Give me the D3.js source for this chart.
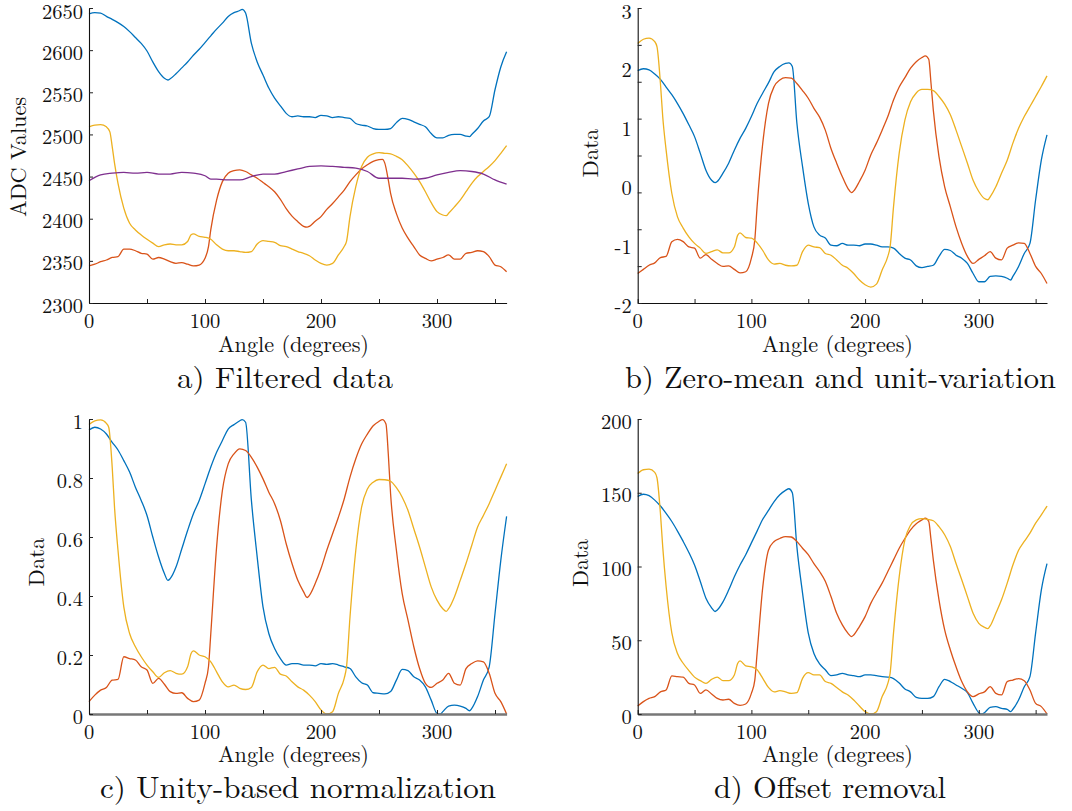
<!DOCTYPE html>
<html>
<head>
<meta charset="utf-8">
<script src="https://cdn.jsdelivr.net/npm/d3@7"></script>
<style>
  body { margin: 0; background: #fff; }
  svg text { fill: #111; }
</style>
</head>
<body>
<svg id="chart" width="1072" height="811"></svg>
<script>
// ---- data: [angle in degrees, value] ----
const filteredBlue = [[0,2643],[5,2644.5],[10,2644],[15,2640],[20,2636.5],[25,2632.6],[30,2628],[35,2622],[40,2615],[45,2608],[50,2599],[55,2586],[60,2574.5],[65,2566.6],[68,2564.6],[70,2566],[75,2572],[80,2579],[85,2586],[90,2594],[95,2601],[100,2609],[105,2617],[110,2625],[115,2632],[120,2640],[125,2644.5],[130,2647],[132,2648.4],[135,2644],[140,2608],[145,2586],[150,2570.5],[155,2555],[160,2543],[165,2534],[170,2525],[175,2521],[180,2522],[185,2521],[190,2521],[195,2520],[200,2522.7],[205,2522],[210,2520],[215,2521],[220,2520],[225,2519],[230,2513],[235,2511],[240,2510],[245,2507],[250,2506],[255,2506],[260,2507],[265,2514],[270,2519],[275,2518],[280,2515],[285,2512],[290,2509],[295,2501],[300,2496],[305,2496],[310,2499],[315,2500],[320,2500],[325,2498],[328,2497.4],[330,2500],[335,2507],[340,2516],[345,2521],[350,2553],[355,2580],[360,2598]];
const filteredRed = [[0,2344],[5,2346],[10,2349],[15,2351],[20,2354],[25,2355],[30,2364],[35,2364],[40,2362],[45,2359],[50,2358],[55,2352],[60,2354],[65,2352],[70,2349],[75,2347],[80,2348],[85,2346],[90,2344],[95,2345],[100,2353],[103,2367],[105,2387],[110,2422],[115,2444],[120,2454],[125,2457],[130,2458],[135,2456],[140,2452],[145,2448],[150,2443],[155,2438],[160,2432],[165,2423],[170,2412],[175,2403],[180,2396.5],[185,2391],[188,2390],[190,2391],[195,2397],[200,2402.5],[205,2411],[210,2418],[215,2426],[220,2434],[225,2444],[230,2452],[235,2459],[240,2464],[245,2468],[250,2470],[253,2470.5],[255,2466],[258,2446],[260,2430],[265,2406],[270,2389],[275,2377],[280,2367],[285,2357],[290,2353],[295,2350],[300,2352],[305,2354],[310,2357],[315,2352],[320,2352],[325,2359],[330,2360],[335,2362],[340,2361],[345,2355],[350,2345],[355,2343],[360,2337]];
const filteredYellow = [[0,2509],[5,2511],[10,2511.6],[15,2509],[18,2503],[20,2485.5],[22,2466],[25,2442],[30,2412.6],[35,2394.6],[40,2386.7],[45,2380.7],[50,2375.6],[55,2371],[60,2367],[65,2369],[70,2370],[75,2369],[80,2369],[85,2373],[88,2381],[90,2382],[95,2379],[100,2378],[105,2375.6],[110,2369],[115,2364],[120,2362],[125,2362],[130,2361],[135,2360],[140,2361],[145,2370],[150,2374],[155,2373],[160,2372],[165,2368],[170,2367],[175,2364],[180,2361],[185,2359],[190,2356],[195,2351],[200,2347],[205,2345],[210,2347],[215,2357],[220,2367],[222,2373],[225,2402.5],[230,2438],[235,2462],[240,2473],[245,2477],[250,2478.4],[255,2477.6],[260,2477],[265,2474],[270,2470],[275,2462.6],[280,2454],[285,2444],[290,2432],[295,2419],[300,2408.4],[305,2404.4],[308,2403.6],[310,2406.4],[315,2414],[320,2422],[325,2432],[330,2442],[335,2450],[340,2456],[345,2462],[350,2469],[355,2477.6],[360,2486.7]];
const filteredPurple = [[0,2445],[10,2452],[20,2454],[30,2455],[40,2454],[50,2455],[60,2453],[70,2453],[80,2455],[90,2454],[100,2451],[105,2447],[110,2447],[120,2446],[130,2446],[140,2450],[150,2453],[160,2453],[170,2456],[180,2459],[190,2462],[200,2462.6],[210,2462],[220,2461],[230,2460],[240,2456],[250,2448],[260,2448],[270,2448],[280,2447],[290,2448],[300,2452],[310,2455],[320,2457],[330,2456],[340,2453],[350,2446],[360,2441]];

const zscoreBlue = [[0,1.94],[5,1.97],[10,1.95],[15,1.88],[20,1.79],[25,1.66],[30,1.53],[35,1.38],[40,1.21],[45,1.02],[50,0.82],[55,0.54],[60,0.25],[65,0.08],[68,0.04],[70,0.06],[75,0.2],[80,0.37],[85,0.59],[90,0.79],[95,0.96],[100,1.16],[105,1.38],[110,1.56],[115,1.73],[120,1.92],[125,2.01],[130,2.06],[133,2.07],[136,2.01],[140,1.05],[145,0.31],[150,-0.31],[155,-0.71],[160,-0.85],[165,-0.9],[170,-1.02],[175,-1.03],[180,-0.99],[185,-1.02],[190,-1.02],[195,-1.03],[200,-1.0],[205,-1.0],[210,-1.02],[215,-1.05],[220,-1.05],[225,-1.07],[230,-1.16],[235,-1.24],[240,-1.27],[245,-1.37],[250,-1.4],[255,-1.38],[260,-1.36],[265,-1.21],[270,-1.09],[275,-1.11],[280,-1.19],[285,-1.24],[290,-1.33],[295,-1.5],[300,-1.64],[305,-1.64],[310,-1.55],[315,-1.54],[320,-1.55],[325,-1.58],[328,-1.61],[330,-1.55],[335,-1.38],[340,-1.16],[345,-0.99],[350,-0.25],[355,0.42],[360,0.85]];
const zscoreRed = [[0,-1.5],[5,-1.43],[10,-1.36],[15,-1.32],[20,-1.23],[25,-1.21],[30,-0.96],[35,-0.92],[40,-0.96],[45,-1.05],[50,-1.07],[55,-1.24],[60,-1.18],[65,-1.26],[70,-1.33],[75,-1.38],[80,-1.37],[85,-1.43],[90,-1.49],[95,-1.47],[100,-1.24],[103,-0.93],[105,-0.37],[110,0.71],[115,1.38],[120,1.67],[125,1.78],[130,1.82],[135,1.81],[140,1.72],[145,1.6],[150,1.47],[155,1.3],[160,1.15],[165,0.93],[170,0.62],[175,0.37],[180,0.14],[185,-0.06],[188,-0.13],[190,-0.1],[195,0.06],[200,0.25],[205,0.51],[210,0.71],[215,0.93],[220,1.16],[225,1.44],[230,1.66],[235,1.82],[240,1.98],[245,2.09],[250,2.16],[253,2.19],[256,2.13],[258,1.72],[260,1.27],[265,0.48],[270,-0.03],[275,-0.37],[280,-0.71],[285,-0.99],[290,-1.21],[295,-1.33],[300,-1.26],[305,-1.2],[310,-1.13],[315,-1.24],[320,-1.27],[325,-1.07],[330,-1.02],[335,-0.98],[340,-0.99],[345,-1.16],[350,-1.38],[355,-1.5],[360,-1.67]];
const zscoreYellow = [[0,2.4],[5,2.47],[10,2.49],[15,2.43],[17,2.34],[20,1.72],[22,1.16],[25,0.59],[30,-0.14],[35,-0.54],[40,-0.73],[45,-0.88],[50,-0.99],[55,-1.07],[60,-1.16],[65,-1.13],[70,-1.1],[75,-1.15],[80,-1.15],[85,-1.05],[88,-0.85],[90,-0.81],[95,-0.89],[100,-0.9],[105,-0.98],[110,-1.11],[115,-1.27],[120,-1.34],[125,-1.33],[130,-1.36],[135,-1.37],[140,-1.36],[145,-1.13],[150,-1.02],[155,-1.05],[160,-1.06],[165,-1.16],[170,-1.19],[175,-1.27],[180,-1.36],[185,-1.41],[190,-1.5],[195,-1.61],[200,-1.69],[205,-1.73],[210,-1.68],[215,-1.44],[220,-1.21],[222,-1.05],[225,-0.37],[230,0.54],[235,1.1],[240,1.41],[245,1.56],[250,1.62],[255,1.62],[260,1.6],[265,1.5],[270,1.37],[275,1.19],[280,0.93],[285,0.65],[290,0.37],[295,0.08],[300,-0.11],[305,-0.23],[308,-0.25],[310,-0.2],[315,-0.03],[320,0.2],[325,0.42],[330,0.71],[335,0.96],[340,1.16],[345,1.33],[350,1.5],[355,1.67],[360,1.85]];

const unityBlue = [[0,0.963],[5,0.972],[10,0.966],[15,0.949],[20,0.921],[25,0.895],[30,0.859],[35,0.82],[40,0.769],[45,0.724],[50,0.673],[55,0.6],[60,0.532],[65,0.476],[68,0.453],[70,0.459],[75,0.498],[80,0.56],[85,0.622],[90,0.679],[95,0.724],[100,0.78],[105,0.837],[110,0.887],[115,0.927],[120,0.966],[125,0.981],[130,0.994],[132,0.998],[135,0.989],[140,0.724],[145,0.532],[150,0.363],[155,0.273],[160,0.222],[165,0.188],[170,0.166],[175,0.171],[180,0.171],[185,0.166],[190,0.166],[195,0.163],[200,0.171],[205,0.168],[210,0.171],[215,0.166],[220,0.16],[225,0.154],[230,0.126],[235,0.106],[240,0.098],[245,0.072],[250,0.07],[255,0.068],[260,0.076],[265,0.115],[270,0.151],[275,0.147],[280,0.126],[285,0.115],[290,0.092],[295,0.047],[300,0.002],[303,0],[305,0.008],[310,0.027],[315,0.03],[320,0.027],[325,0.019],[328,0.011],[330,0.019],[335,0.059],[340,0.115],[345,0.16],[350,0.34],[355,0.521],[360,0.67]];
const unityRed = [[0,0.042],[5,0.064],[10,0.081],[15,0.09],[20,0.115],[25,0.117],[30,0.194],[35,0.188],[40,0.183],[45,0.16],[50,0.149],[55,0.104],[60,0.121],[65,0.101],[70,0.076],[75,0.07],[80,0.072],[85,0.053],[90,0.042],[95,0.047],[100,0.104],[103,0.16],[105,0.273],[110,0.566],[115,0.758],[120,0.848],[125,0.882],[130,0.899],[135,0.893],[140,0.87],[145,0.837],[150,0.797],[155,0.752],[160,0.713],[165,0.656],[170,0.577],[175,0.51],[180,0.453],[185,0.414],[188,0.395],[190,0.402],[195,0.442],[200,0.493],[205,0.555],[210,0.611],[215,0.667],[220,0.729],[225,0.803],[230,0.865],[235,0.915],[240,0.949],[245,0.977],[250,0.992],[253,0.998],[256,0.983],[258,0.882],[260,0.746],[265,0.555],[270,0.408],[275,0.318],[280,0.228],[285,0.154],[290,0.104],[295,0.09],[300,0.104],[305,0.115],[310,0.138],[315,0.104],[320,0.098],[325,0.154],[330,0.171],[335,0.18],[340,0.177],[345,0.138],[350,0.07],[355,0.042],[360,0]];
const unityYellow = [[0,0.981],[5,0.994],[10,0.997],[15,0.985],[17,0.972],[20,0.837],[22,0.701],[25,0.555],[30,0.363],[35,0.273],[40,0.228],[45,0.194],[50,0.166],[55,0.143],[60,0.124],[65,0.14],[70,0.147],[75,0.138],[80,0.135],[85,0.16],[88,0.205],[90,0.214],[95,0.2],[100,0.194],[105,0.177],[110,0.143],[115,0.109],[120,0.092],[125,0.098],[130,0.087],[135,0.083],[140,0.09],[145,0.143],[150,0.166],[155,0.154],[160,0.158],[165,0.135],[170,0.129],[175,0.109],[180,0.092],[185,0.081],[190,0.064],[195,0.042],[200,0.014],[205,0],[210,0.008],[215,0.07],[220,0.121],[222,0.16],[225,0.329],[230,0.555],[235,0.701],[240,0.763],[245,0.786],[250,0.795],[255,0.794],[260,0.789],[265,0.767],[270,0.735],[275,0.69],[280,0.628],[285,0.566],[290,0.498],[295,0.431],[300,0.386],[305,0.357],[308,0.348],[310,0.357],[315,0.397],[320,0.453],[325,0.51],[330,0.572],[335,0.634],[340,0.673],[345,0.713],[350,0.758],[355,0.803],[360,0.848]];

const offsetBlue = [[0,147.5],[5,149],[10,148],[15,145],[20,141],[25,136],[30,130.5],[35,124],[40,117],[45,109.5],[50,101],[55,90],[60,78.5],[65,72],[68,69.5],[70,70.5],[75,76],[80,84],[85,93],[90,101],[95,108],[100,116],[105,124],[110,132],[115,138],[120,144],[125,148.6],[130,151.6],[133,152.7],[136,150],[140,113.5],[145,82],[150,55],[155,41],[160,34],[165,30],[170,26],[175,26.5],[180,27.6],[185,26.5],[190,26],[195,25.3],[200,26.5],[205,26.5],[210,26],[215,25.3],[220,25],[225,24],[230,21],[235,17],[240,15],[245,11.3],[250,10.6],[255,10.6],[260,11.8],[265,18.5],[270,23.5],[275,22],[280,19.7],[285,17.4],[290,14.5],[295,7.2],[300,0.9],[303,0],[305,0.9],[310,4.5],[315,5],[320,3.8],[325,3.2],[328,1.6],[330,3.2],[335,9.5],[340,18.5],[345,25.3],[350,55],[355,84],[360,102]];
const offsetRed = [[0,5.4],[5,8.4],[10,10.6],[15,11.8],[20,15],[25,16.3],[30,25.8],[35,25.3],[40,25],[45,20.8],[50,19.7],[55,14],[60,16.3],[65,13.6],[70,10.6],[75,9.5],[80,10],[85,7.2],[90,5.9],[95,6.8],[100,14],[103,23],[105,41],[110,86],[115,111],[120,117],[125,119],[130,120.3],[135,120],[140,117],[145,112.4],[150,108],[155,102],[160,96.6],[165,90],[170,79.6],[175,68.3],[180,60.4],[185,54.7],[188,52.5],[190,53.6],[195,59.3],[200,66],[205,75],[210,82],[215,88.7],[220,96.6],[225,104.5],[230,112.4],[235,119],[240,124.9],[245,129],[250,131.6],[253,132.8],[256,130.5],[258,118],[260,104.5],[265,77.4],[270,57],[275,43.4],[280,32],[285,22],[290,15],[295,11.8],[300,13.6],[305,15],[310,18.5],[315,14],[320,12.9],[325,22],[330,23],[335,24],[340,22.6],[345,16.3],[350,7.2],[355,5],[360,0]];
const offsetYellow = [[0,163],[5,165.6],[10,166],[15,163.8],[17,160],[20,136],[22,113.5],[25,86.4],[30,55],[35,41],[40,34.4],[45,29.4],[50,25],[55,22.6],[60,20.8],[65,23.5],[70,25],[75,22.6],[80,22.6],[85,26.5],[88,34.4],[90,36],[95,32.6],[100,32],[105,30],[110,24.2],[115,18],[120,15],[125,15.8],[130,15],[135,14],[140,14.5],[145,24.2],[150,28],[155,26.5],[160,26.5],[165,22],[170,20.8],[175,18],[180,15],[185,12.9],[190,9.5],[195,5.4],[200,1.6],[205,0],[210,1.6],[215,11.8],[220,20.8],[222,27.6],[225,55],[230,93],[235,118],[240,128],[245,131.6],[250,132.5],[255,132],[260,131],[265,127],[270,121.5],[275,113.5],[280,102],[285,91],[290,79.6],[295,68.3],[300,61.5],[305,58.8],[308,57.9],[310,59.7],[315,68.3],[320,77.4],[325,88.7],[330,101],[335,111],[340,117],[345,122.6],[350,129.4],[355,135],[360,141]];

// ---- axis ticks and labels ----
const angleTicks = [0, 50, 100, 150, 200, 250, 300, 350];
const angleLabels = [0, 100, 200, 300];
const filteredTicks = [2300, 2350, 2400, 2450, 2500, 2550, 2600, 2650];
const zscoreTicks = [-2, -1.375, -0.75, -0.125, 0.5, 1.125, 1.75, 2.375, 3];
const zscoreLabels = [-2, -1, 0, 1, 2, 3];
const unityTicks = [0, 0.2, 0.4, 0.6, 0.8, 1];
const unityLabels = ["0", "0.2", "0.4", "0.6", "0.8", "1"];
const offsetTicks = [0, 50, 100, 150, 200];

const colors = { blue: "#0072BD", red: "#D95319", yellow: "#EDB120", purple: "#7E2F8E" };
const serif = "'Latin Modern Roman', 'CMU Serif', 'Liberation Serif', 'DejaVu Serif', 'Noto Serif', 'Tinos', 'Nimbus Roman', 'FreeSerif', 'Times New Roman', Times, serif";

const panels = [
  { left: 89, right: 506.6, top: 8, bottom: 303, yDomain: [2300, 2650],
    ticks: filteredTicks, labels: filteredTicks.map(String),
    baseColor: "#111", baseWidth: 1,
    yTitle: "ADC Values", yTitleX: 26, yTitleY: 157, yTitleLen: 120,
    xTitleX: 293.5, xTitleY: 352, title: "a) Filtered data", titleX: 285, titleY: 388, titleLen: 216,
    series: [[filteredBlue, colors.blue], [filteredRed, colors.red], [filteredYellow, colors.yellow], [filteredPurple, colors.purple]] },
  { left: 637.7, right: 1047, top: 8, bottom: 303, yDomain: [-2, 3],
    ticks: zscoreTicks, labelValues: zscoreLabels, labels: zscoreLabels.map(String),
    baseColor: "#111", baseWidth: 1,
    yTitle: "Data", yTitleX: 598, yTitleY: 153, yTitleLen: 49,
    xTitleX: 837.5, xTitleY: 352, title: "b) Zero-mean and unit-variation", titleX: 840.5, titleY: 388, titleLen: 431,
    series: [[zscoreBlue, colors.blue], [zscoreRed, colors.red], [zscoreYellow, colors.yellow]] },
  { left: 89, right: 506.6, top: 419, bottom: 714, yDomain: [0, 1],
    ticks: unityTicks, labels: unityLabels,
    baseColor: "#777", baseWidth: 2.4,
    yTitle: "Data", yTitleX: 44, yTitleY: 562, yTitleLen: 49,
    xTitleX: 293.5, xTitleY: 762, title: "c) Unity-based normalization", titleX: 298, titleY: 798, titleLen: 396,
    series: [[unityBlue, colors.blue], [unityRed, colors.red], [unityYellow, colors.yellow]] },
  { left: 637.7, right: 1047, top: 419, bottom: 714, yDomain: [0, 200],
    ticks: offsetTicks, labels: offsetTicks.map(String),
    baseColor: "#777", baseWidth: 2.4,
    yTitle: "Data", yTitleX: 588, yTitleY: 563, yTitleLen: 48,
    xTitleX: 837.5, xTitleY: 762, title: "d) Offset removal", titleX: 830, titleY: 798, titleLen: 232,
    series: [[offsetBlue, colors.blue], [offsetRed, colors.red], [offsetYellow, colors.yellow]] }
];

const svg = d3.select("#chart");

function drawPanel(p) {
  const x = d3.scaleLinear().domain([0, 360]).range([p.left, p.right]);
  const y = d3.scaleLinear().domain(p.yDomain).range([p.bottom, p.top]);
  const g = svg.append("g");

  const line = d3.line()
    .x(d => x(d[0]))
    .y(d => y(d[1]))
    .curve(d3.curveMonotoneX);

  p.series.forEach(([values, color]) => {
    g.append("path")
      .datum(values)
      .attr("fill", "none")
      .attr("stroke", color)
      .attr("stroke-width", 1.3)
      .attr("stroke-linejoin", "round")
      .attr("d", line);
  });

  // x axis (ticks point inward)
  const xg = g.append("g")
    .attr("transform", `translate(0,${p.bottom})`)
    .call(d3.axisBottom(x).tickValues(angleTicks).tickSizeInner(-4).tickSizeOuter(0).tickFormat(""));
  xg.select(".domain").attr("stroke", p.baseColor).attr("stroke-width", p.baseWidth);
  xg.selectAll(".tick line").attr("stroke", "#222");

  g.selectAll(".xlab")
    .data(angleLabels)
    .enter()
    .append("text")
    .attr("x", d => x(d))
    .attr("y", p.bottom + 24.5)
    .attr("text-anchor", "middle")
    .style("font-family", serif)
    .style("font-size", "20.5px")
    .text(d => d);

  // y axis
  const yg = g.append("g")
    .attr("transform", `translate(${p.left},0)`)
    .call(d3.axisLeft(y).tickValues(p.ticks).tickSizeInner(-4).tickSizeOuter(0).tickFormat(""));
  yg.select(".domain").attr("stroke", "#111").attr("stroke-width", 1.1);
  yg.selectAll(".tick line").attr("stroke", "#222");

  const labelValues = p.labelValues || p.ticks;
  g.selectAll(".ylab")
    .data(labelValues)
    .enter()
    .append("text")
    .attr("x", p.left - 6)
    .attr("y", d => Math.max(y(d) + 9.5, 19))
    .attr("text-anchor", "end")
    .style("font-family", serif)
    .style("font-size", "20.5px")
    .text((d, i) => p.labels[i]);

  // axis titles
  g.append("text")
    .attr("transform", `translate(${p.yTitleX},${p.yTitleY}) rotate(-90)`)
    .attr("text-anchor", "middle")
    .attr("textLength", p.yTitleLen)
    .attr("lengthAdjust", "spacingAndGlyphs")
    .style("font-family", serif)
    .style("font-size", "22px")
    .text(p.yTitle);

  g.append("text")
    .attr("x", p.xTitleX)
    .attr("y", p.xTitleY)
    .attr("text-anchor", "middle")
    .attr("textLength", 151)
    .attr("lengthAdjust", "spacingAndGlyphs")
    .style("font-family", serif)
    .style("font-size", "22px")
    .text("Angle (degrees)");

  // panel caption
  g.append("text")
    .attr("x", p.titleX)
    .attr("y", p.titleY)
    .attr("text-anchor", "middle")
    .attr("textLength", p.titleLen)
    .attr("lengthAdjust", "spacingAndGlyphs")
    .style("font-family", serif)
    .style("font-size", "30px")
    .text(p.title);
}

panels.forEach(drawPanel);
</script>
</body>
</html>
